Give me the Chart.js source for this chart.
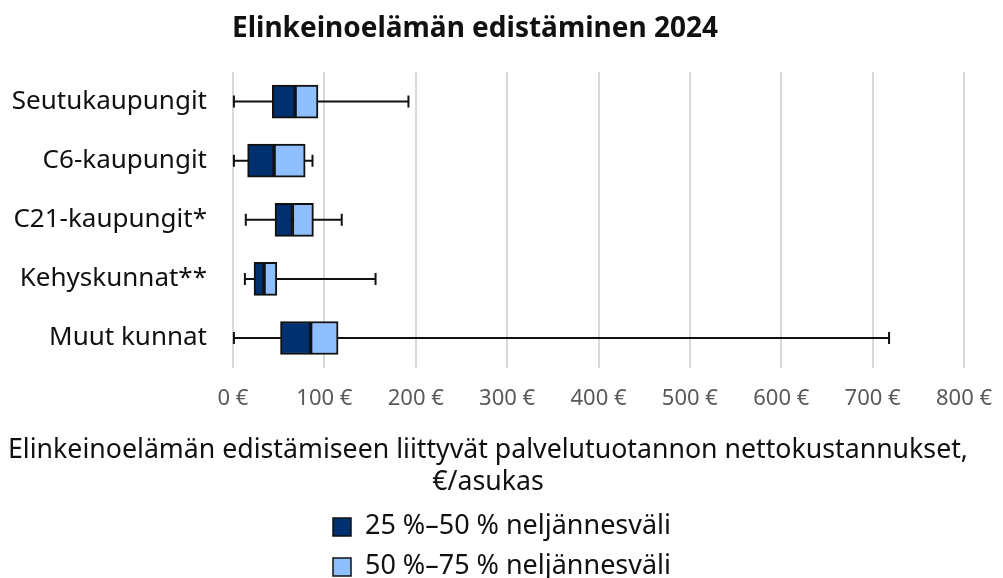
<!DOCTYPE html>
<html lang="fi">
<head>
<meta charset="utf-8">
<title>Elinkeinoelämän edistäminen 2024</title>
<script src="https://cdn.jsdelivr.net/npm/chart.js@4/dist/chart.umd.min.js"></script>
<style>
  html, body { margin: 0; padding: 0; background: #fff; }
  #wrap { width: 1003px; height: 578px; position: relative; }
</style>
</head>
<body>
<div id="wrap"><canvas id="chart"></canvas></div>
<script>
// values, €/asukas
const categories = ['Seutukaupungit', 'C6-kaupungit', 'C21-kaupungit*', 'Kehyskunnat**', 'Muut kunnat'];
const minimums = [1, 1, 14, 13, 1];
const lowerQuartiles = [43, 16, 46, 23, 52];
const medians = [68, 45, 65, 34, 85];
const upperQuartiles = [93, 79, 88, 48, 115];
const maximums = [192, 87, 119, 156, 718];
const xTicks = [0, 100, 200, 300, 400, 500, 600, 700, 800];

const seriesLabels = ['25 %–50 % neljännesväli', '50 %–75 % neljännesväli'];
const chartTitle = 'Elinkeinoelämän edistäminen 2024';
const axisTitle = ['Elinkeinoelämän edistämiseen liittyvät palvelutuotannon nettokustannukset,', '€/asukas'];

const DARK = '#003070';
const LIGHT = '#8FBFFF';
const EDGE = '#111111';
const FONT = "'Noto Sans', sans-serif";

// whiskers are drawn from the scales, under the boxes
const whiskers = {
  id: 'whiskers',
  beforeDatasetsDraw(chart) {
    const { ctx, scales: { x, y } } = chart;
    ctx.save();
    ctx.strokeStyle = EDGE;
    ctx.lineWidth = 2;
    categories.forEach((cat, i) => {
      const yy = y.getPixelForValue(i);
      const x0 = x.getPixelForValue(minimums[i]);
      const x1 = x.getPixelForValue(maximums[i]);
      ctx.beginPath();
      ctx.moveTo(x0, yy);
      ctx.lineTo(x1, yy);
      ctx.moveTo(x0, yy - 6);
      ctx.lineTo(x0, yy + 6);
      ctx.moveTo(x1, yy - 6);
      ctx.lineTo(x1, yy + 6);
      ctx.stroke();
    });
    ctx.restore();
  },
};

// title, axis title and a stacked legend
const texts = {
  id: 'texts',
  afterDraw(chart) {
    const { ctx } = chart;
    ctx.save();
    ctx.fillStyle = '#111';
    ctx.textAlign = 'center';
    ctx.textBaseline = 'middle';
    ctx.font = `bold 28px ${FONT}`;
    ctx.fillText(chartTitle, 475, 29, 490);

    // both axis title lines squeezed by the same ratio
    ctx.font = `27px ${FONT}`;
    const ratio = Math.min(1, 960 / ctx.measureText(axisTitle[0]).width);
    axisTitle.forEach((line, i) => {
      ctx.fillText(line, 488, 450 + i * 32, ctx.measureText(line).width * ratio);
    });

    ctx.textAlign = 'left';
    chart.data.datasets.forEach((ds, i) => {
      const cy = 527 + i * 40;
      ctx.fillStyle = ds.backgroundColor;
      ctx.fillRect(333, cy - 9, 18, 18);
      ctx.strokeStyle = EDGE;
      ctx.lineWidth = 1.5;
      ctx.strokeRect(333, cy - 9, 18, 18);
      ctx.fillStyle = '#111';
      ctx.fillText(ds.label, 365, cy - 1, 306);
    });
    ctx.restore();
  },
};

new Chart(document.getElementById('chart'), {
  type: 'bar',
  data: {
    labels: categories,
    datasets: [{
      label: seriesLabels[0],
      data: categories.map((c, i) => [lowerQuartiles[i], medians[i]]),
      backgroundColor: DARK,
      borderColor: EDGE,
      borderWidth: 2,
      borderSkipped: false,
      grouped: false,
      barThickness: 33,
    }, {
      label: seriesLabels[1],
      data: categories.map((c, i) => [medians[i], upperQuartiles[i]]),
      backgroundColor: LIGHT,
      borderColor: EDGE,
      borderWidth: 2,
      borderSkipped: false,
      grouped: false,
      barThickness: 33,
    }],
  },
  options: {
    indexAxis: 'y',
    responsive: true,
    maintainAspectRatio: false,
    animation: false,
    layout: {
      padding: { top: 72, right: 0, bottom: 148, left: 0 },
    },
    scales: {
      x: {
        min: 0,
        max: 800,
        afterBuildTicks: (scale) => {
          scale.ticks = xTicks.map((v) => ({ value: v }));
        },
        // keep the plot edge where the reference has it
        afterFit: (scale) => { scale.paddingRight = 39; },
        grid: { color: '#d9d9d9', lineWidth: 2, drawTicks: false },
        border: { display: false },
        ticks: {
          padding: 18,
          color: '#595959',
          font: { family: FONT, size: 22 },
          callback: (v) => v + ' €',
        },
      },
      y: {
        grid: { display: false },
        border: { display: false },
        afterFit: (scale) => { scale.width = 233; },
        ticks: {
          padding: 18,
          color: '#111',
          font: { family: FONT, size: 26 },
        },
      },
    },
    plugins: {
      legend: { display: false },
      title: { display: false },
      tooltip: { enabled: false },
    },
  },
  plugins: [whiskers, texts],
});
</script>
</body>
</html>
